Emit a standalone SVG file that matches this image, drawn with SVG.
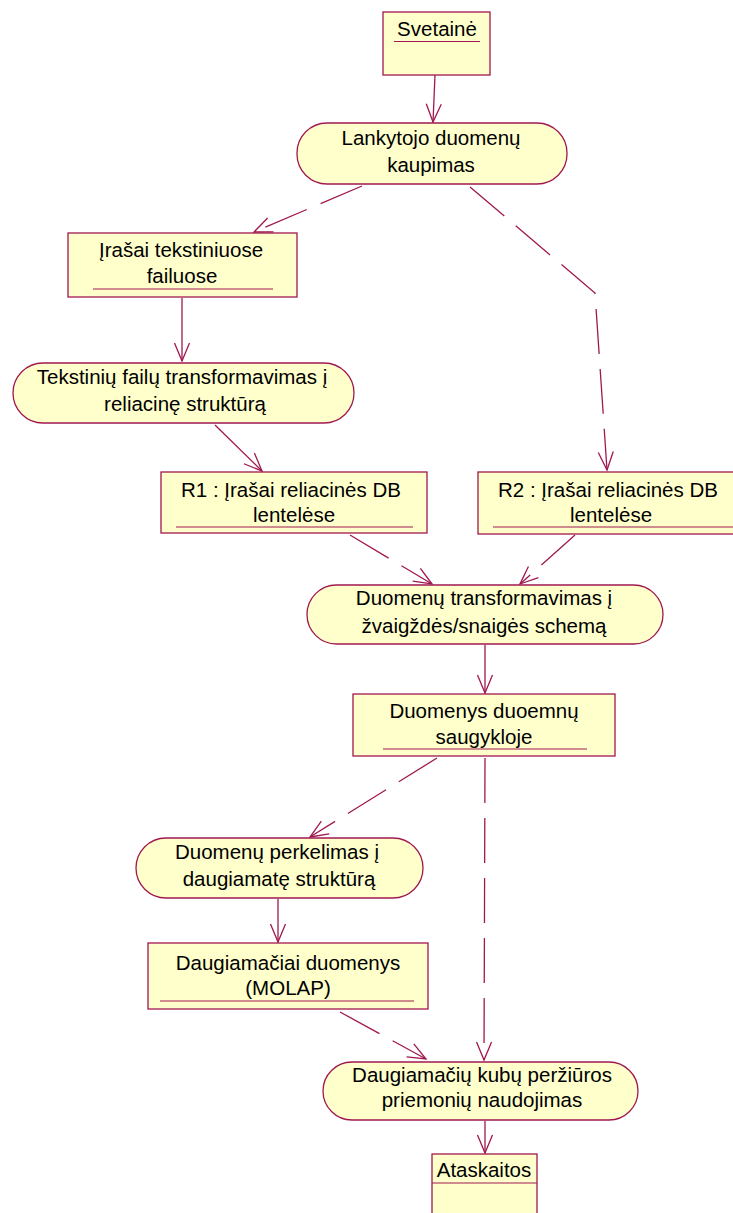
<svg xmlns="http://www.w3.org/2000/svg" width="733" height="1213" viewBox="0 0 733 1213">
  <style>
    .box { fill: #ffffcc; stroke: #a01850; stroke-width: 1.3; }
    .ul { stroke: #a01850; stroke-width: 1.2; fill: none; }
    .lbl { font-family: "Liberation Sans", Arial, sans-serif; font-size: 20.5px; fill: #000; text-anchor: middle; }
    .flow { fill: none; stroke: #a01850; stroke-width: 1.3; }
    .dash { stroke-dasharray: 45 15; }
  </style>
  <defs>
    <marker id="open" markerUnits="userSpaceOnUse" viewBox="-20 -10 22 20" refX="0" refY="0" markerWidth="22" markerHeight="20" orient="auto">
      <path d="M-18,-7.5 L0,0 L-18,7.5" fill="none" stroke="#a01850" stroke-width="1.3"/>
    </marker>
  </defs>
  <rect width="733" height="1213" fill="#ffffff"/>

  <!-- connectors -->
  <g id="connectors">
    <path class="flow" d="M435,75 L433,122" marker-end="url(#open)"/>
    <path class="flow dash" d="M362,186 L254,232" marker-end="url(#open)"/>
    <path class="flow dash" d="M470,187 L595,293 L607,470" marker-end="url(#open)"/>
    <path class="flow" d="M182,298 L182,361" marker-end="url(#open)"/>
    <path class="flow" d="M215,425 L262,471" marker-end="url(#open)"/>
    <path class="flow dash" d="M350,535 L432,584" marker-end="url(#open)"/>
    <path class="flow dash" d="M575,535 L520,584" marker-end="url(#open)"/>
    <path class="flow" d="M485,645 L485,693" marker-end="url(#open)"/>
    <path class="flow dash" d="M437,758 L310,837" marker-end="url(#open)"/>
    <path class="flow dash" d="M485,758 L484,1060" marker-end="url(#open)"/>
    <path class="flow" d="M278,899 L278,942" marker-end="url(#open)"/>
    <path class="flow dash" d="M340,1012 L426,1059" marker-end="url(#open)"/>
    <path class="flow" d="M485,1121 L485,1153" marker-end="url(#open)"/>
  </g>

  <g id="svetaine">
    <rect class="box" x="383" y="12" width="107" height="63"/>
    <text class="lbl" x="437" y="36">Svetainė</text>
    <line class="ul" x1="394" y1="41.5" x2="480" y2="41.5"/>
  </g>

  <g id="lankytojo-duomenu-kaupimas">
    <rect class="box" x="297" y="123" width="270" height="61" rx="30" ry="30"/>
    <text class="lbl" x="431" y="145">Lankytojo duomenų</text>
    <text class="lbl" x="431" y="172">kaupimas</text>
  </g>

  <g id="irasai-tekstiniuose">
    <rect class="box" x="68" y="233" width="229" height="64"/>
    <text class="lbl" x="181" y="257">Įrašai tekstiniuose</text>
    <text class="lbl" x="182" y="283">failuose</text>
    <line class="ul" x1="93" y1="289" x2="273" y2="289"/>
  </g>

  <g id="tekstiniu-transformavimas">
    <rect class="box" x="13" y="363" width="341" height="60" rx="30" ry="30"/>
    <text class="lbl" x="182" y="384">Tekstinių failų transformavimas į</text>
    <text class="lbl" x="185" y="411">reliacinę struktūrą</text>
  </g>

  <g id="r1">
    <rect class="box" x="161" y="472" width="266" height="61"/>
    <text class="lbl" x="291" y="497">R1 : Įrašai reliacinės DB</text>
    <text class="lbl" x="294" y="522">lentelėse</text>
    <line class="ul" x1="176" y1="527" x2="413" y2="527"/>
  </g>

  <g id="r2">
    <rect class="box" x="478" y="472" width="258" height="62"/>
    <text class="lbl" x="608" y="497">R2 : Įrašai reliacinės DB</text>
    <text class="lbl" x="611" y="522">lentelėse</text>
    <line class="ul" x1="493" y1="527" x2="733" y2="527"/>
  </g>

  <g id="duomenu-transformavimas">
    <rect class="box" x="307" y="585" width="356" height="59" rx="29.5" ry="29.5"/>
    <text class="lbl" x="484" y="605">Duomenų transformavimas į</text>
    <text class="lbl" x="484" y="633">žvaigždės/snaigės schemą</text>
  </g>

  <g id="duomenys-saugykloje">
    <rect class="box" x="353" y="694" width="262" height="62"/>
    <text class="lbl" x="484" y="718">Duomenys duoemnų</text>
    <text class="lbl" x="484" y="744">saugykloje</text>
    <line class="ul" x1="383" y1="749" x2="587" y2="749"/>
  </g>

  <g id="duomenu-perkelimas">
    <rect class="box" x="136" y="838" width="287" height="60" rx="30" ry="30"/>
    <text class="lbl" x="277" y="859">Duomenų perkelimas į</text>
    <text class="lbl" x="279" y="886">daugiamatę struktūrą</text>
  </g>

  <g id="daugiamaciai-duomenys">
    <rect class="box" x="148" y="943" width="280" height="66"/>
    <text class="lbl" x="288" y="970">Daugiamačiai duomenys</text>
    <text class="lbl" x="288" y="995">(MOLAP)</text>
    <line class="ul" x1="160" y1="1001" x2="414" y2="1001"/>
  </g>

  <g id="kubu-perziura">
    <rect class="box" x="323" y="1062" width="315" height="58" rx="29" ry="29"/>
    <text class="lbl" x="482" y="1082">Daugiamačių kubų peržiūros</text>
    <text class="lbl" x="482" y="1107">priemonių naudojimas</text>
  </g>

  <g id="ataskaitos">
    <rect class="box" x="432" y="1154" width="105" height="70"/>
    <line class="ul" x1="432" y1="1183" x2="537" y2="1183"/>
    <text class="lbl" x="484" y="1177">Ataskaitos</text>
  </g>
</svg>
